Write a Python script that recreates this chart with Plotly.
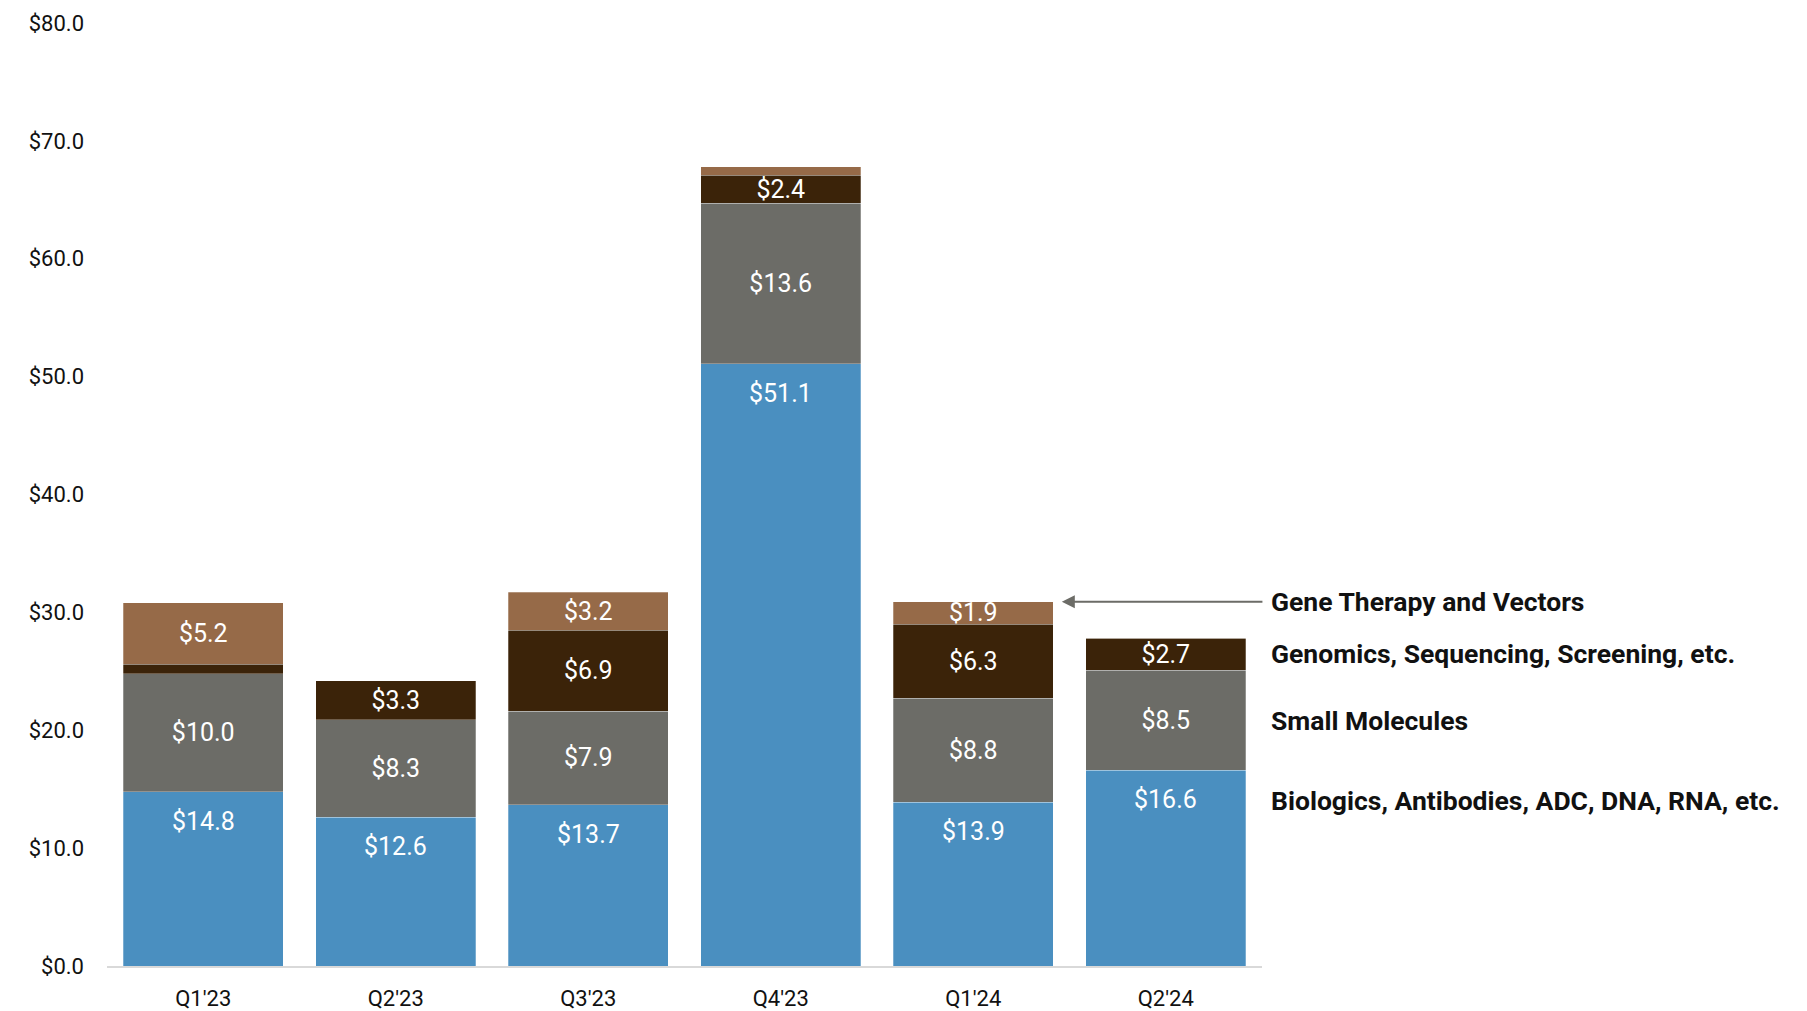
import plotly.graph_objects as go

# Quarterly funding by modality ($B)
quarters = ["Q1'23", "Q2'23", "Q3'23", "Q4'23", "Q1'24", "Q2'24"]
biologics = [14.8, 12.6, 13.7, 51.1, 13.9, 16.6]
small_molecules = [10.0, 8.3, 7.9, 13.6, 8.8, 8.5]
genomics = [0.8, 3.3, 6.9, 2.4, 6.3, 2.7]
gene_therapy = [5.2, 0.0, 3.2, 0.7, 1.9, 0.0]

series_names = [
    "Biologics, Antibodies, ADC, DNA, RNA, etc.",
    "Small Molecules",
    "Genomics, Sequencing, Screening, etc.",
    "Gene Therapy and Vectors",
]
y_ticks = [0, 10, 20, 30, 40, 50, 60, 70, 80]

colors = ["#4A8FC0", "#6C6C67", "#3B2309", "#966A48"]
LABEL_MIN = 1.0  # segments smaller than this carry no value label

FONT = "Roboto, Liberation Sans, Arial"


def labels(vals):
    return [f"${v:.1f}" if v >= LABEL_MIN else "" for v in vals]


fig = go.Figure()
all_series = [biologics, small_molecules, genomics, gene_therapy]
for i, (name, vals) in enumerate(zip(series_names, all_series)):
    fig.add_trace(go.Bar(
        x=quarters,
        y=vals,
        name=name,
        marker=dict(color=colors[i], line=dict(width=0.6, color="rgba(255,255,255,0.45)")),
        # biologics labels are placed near the segment top as annotations below
        text=None if i == 0 else labels(vals),
        textposition="inside",
        insidetextanchor="middle",
        constraintext="none",
        textangle=0,
        textfont=dict(family=FONT, size=25, color="white"),
        hoverinfo="skip",
    ))

# Biologics value labels, just below the top of the blue segment
for q, v in zip(quarters, biologics):
    fig.add_annotation(
        x=q, y=v, xref="x", yref="y", text=f"${v:.1f}", showarrow=False,
        yanchor="top", yshift=-13,
        font=dict(family=FONT, size=25, color="white"),
    )

# Series labels on the right, aligned with the last bar's segments
label_y = [14.0, 20.8, 26.5, 30.9]
for name, yv in zip(series_names, label_y):
    fig.add_annotation(
        x=1.006, xref="paper", y=yv, yref="y",
        text=name, showarrow=False, xanchor="left", yanchor="middle",
        font=dict(family=FONT, size=26.5, color="#111111", weight="bold"),
    )

# Pointer from the gene therapy label to the Q1'24 segment
fig.add_annotation(
    x=4.46, y=30.9, xref="x", yref="y",
    ax=5.51, ay=30.9, axref="x", ayref="y",
    text="", showarrow=True, arrowhead=2, arrowsize=1.3, arrowwidth=2,
    arrowcolor="#6C6C67",
)

fig.update_layout(
    barmode="stack",
    bargap=0.17,
    width=1807,
    height=1011,
    margin=dict(l=107, r=545, t=23, b=45),
    plot_bgcolor="white",
    paper_bgcolor="white",
    showlegend=False,
    font=dict(family=FONT, size=22, color="#111111"),
    xaxis=dict(
        range=[-0.5, 5.5],
        automargin=False,
        showgrid=False,
        showline=True,
        linecolor="#D9D9D9",
        linewidth=2,
        ticks="",
        ticklabelstandoff=12,
        tickfont=dict(family=FONT, size=22, color="#111111"),
    ),
    yaxis=dict(
        range=[0, 80],
        automargin=False,
        tickvals=y_ticks,
        ticktext=[f"${v:.1f}" for v in y_ticks],
        showgrid=False,
        zeroline=False,
        showline=False,
        ticks="",
        ticklabelstandoff=22,
        tickfont=dict(family=FONT, size=22, color="#111111"),
    ),
)

fig.write_html("out.html")
